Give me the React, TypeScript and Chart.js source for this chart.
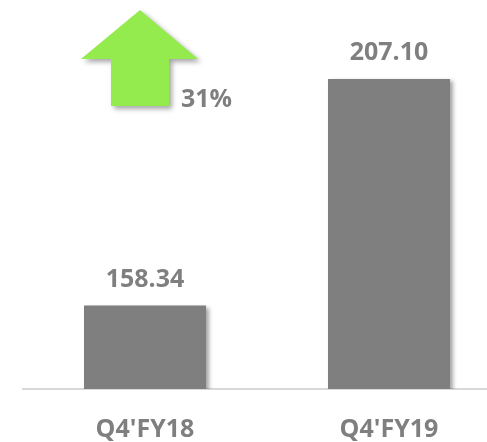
import React, { useEffect, useRef } from "react";
import { Chart, registerables } from "chart.js";

Chart.register(...registerables);

const categories = ["Q4'FY18", "Q4'FY19"];
const values = [158.34, 207.1];
const valueLabels = ["158.34", "207.10"];
const growthLabel = "31%";

const GRAY = "#7f7f7f";
const FONT = "'Open Sans', Lato, sans-serif";
const CANVAS_W = 511;
const CANVAS_H = 471;

const barShadow = {
  id: "barShadow",
  beforeDatasetsDraw(chart: any) {
    const ctx = chart.ctx;
    ctx.save();
    ctx.shadowColor = "rgba(0,0,0,0.35)";
    ctx.shadowBlur = 4;
    ctx.shadowOffsetX = 3;
    ctx.shadowOffsetY = 2;
  },
  afterDatasetsDraw(chart: any) {
    chart.ctx.restore();
  },
};

const valueLabelsPlugin = {
  id: "valueLabels",
  afterDraw(chart: any) {
    const ctx = chart.ctx;
    const meta = chart.getDatasetMeta(0);
    ctx.save();
    ctx.font = `bold 25px ${FONT}`;
    ctx.fillStyle = GRAY;
    ctx.textAlign = "center";
    ctx.textBaseline = "alphabetic";
    meta.data.forEach((bar: any, i: number) => {
      ctx.fillText(valueLabels[i], bar.x, bar.y - 19);
    });
    ctx.restore();
  },
};

const arrowPlugin = {
  id: "arrow",
  afterDraw(chart: any) {
    const ctx = chart.ctx;
    ctx.save();
    ctx.shadowColor = "rgba(0,0,0,0.35)";
    ctx.shadowBlur = 5;
    ctx.shadowOffsetX = 3;
    ctx.shadowOffsetY = 3;
    ctx.fillStyle = "#94EB4E";
    ctx.beginPath();
    ctx.moveTo(140, 10);
    ctx.lineTo(198, 59);
    ctx.lineTo(169, 59);
    ctx.lineTo(169, 106);
    ctx.lineTo(111, 106);
    ctx.lineTo(111, 59);
    ctx.lineTo(81, 59);
    ctx.closePath();
    ctx.fill();
    ctx.restore();
    ctx.save();
    ctx.font = `bold 25px ${FONT}`;
    ctx.fillStyle = GRAY;
    ctx.textAlign = "left";
    ctx.textBaseline = "alphabetic";
    ctx.fillText(growthLabel, 181, 107);
    ctx.restore();
  },
};

export default function App() {
  const ref = useRef<HTMLCanvasElement | null>(null);
  useEffect(() => {
    if (!ref.current) return;
    const chart = new Chart(ref.current, {
      type: "bar",
      data: {
        labels: categories,
        datasets: [
          {
            data: values,
            backgroundColor: GRAY,
            barPercentage: 0.5,
            categoryPercentage: 1,
          },
        ],
      },
      options: {
        animation: false,
        responsive: false,
        maintainAspectRatio: false,
        layout: { padding: { left: 23, right: 0, top: 19, bottom: 0 } },
        plugins: {
          legend: { display: false },
          tooltip: { enabled: false },
        },
        scales: {
          x: {
            grid: { display: false, drawTicks: false },
            border: { display: true, color: "#d9d9d9", width: 2 },
            ticks: {
              color: GRAY,
              padding: 26,
              font: { family: FONT, size: 25, weight: "bold" },
            },
          },
          y: {
            display: false,
            min: 140.4,
            max: 220,
          },
        },
      },
      plugins: [barShadow, valueLabelsPlugin, arrowPlugin],
    });
    return () => chart.destroy();
  }, []);
  return (
    <div style={{ position: "absolute", left: 0, top: 0, width: 487, height: 442, overflow: "hidden", background: "#fff" }}>
      <canvas ref={ref} width={CANVAS_W} height={CANVAS_H} style={{ width: CANVAS_W, height: CANVAS_H, display: "block" }} />
    </div>
  );
}
